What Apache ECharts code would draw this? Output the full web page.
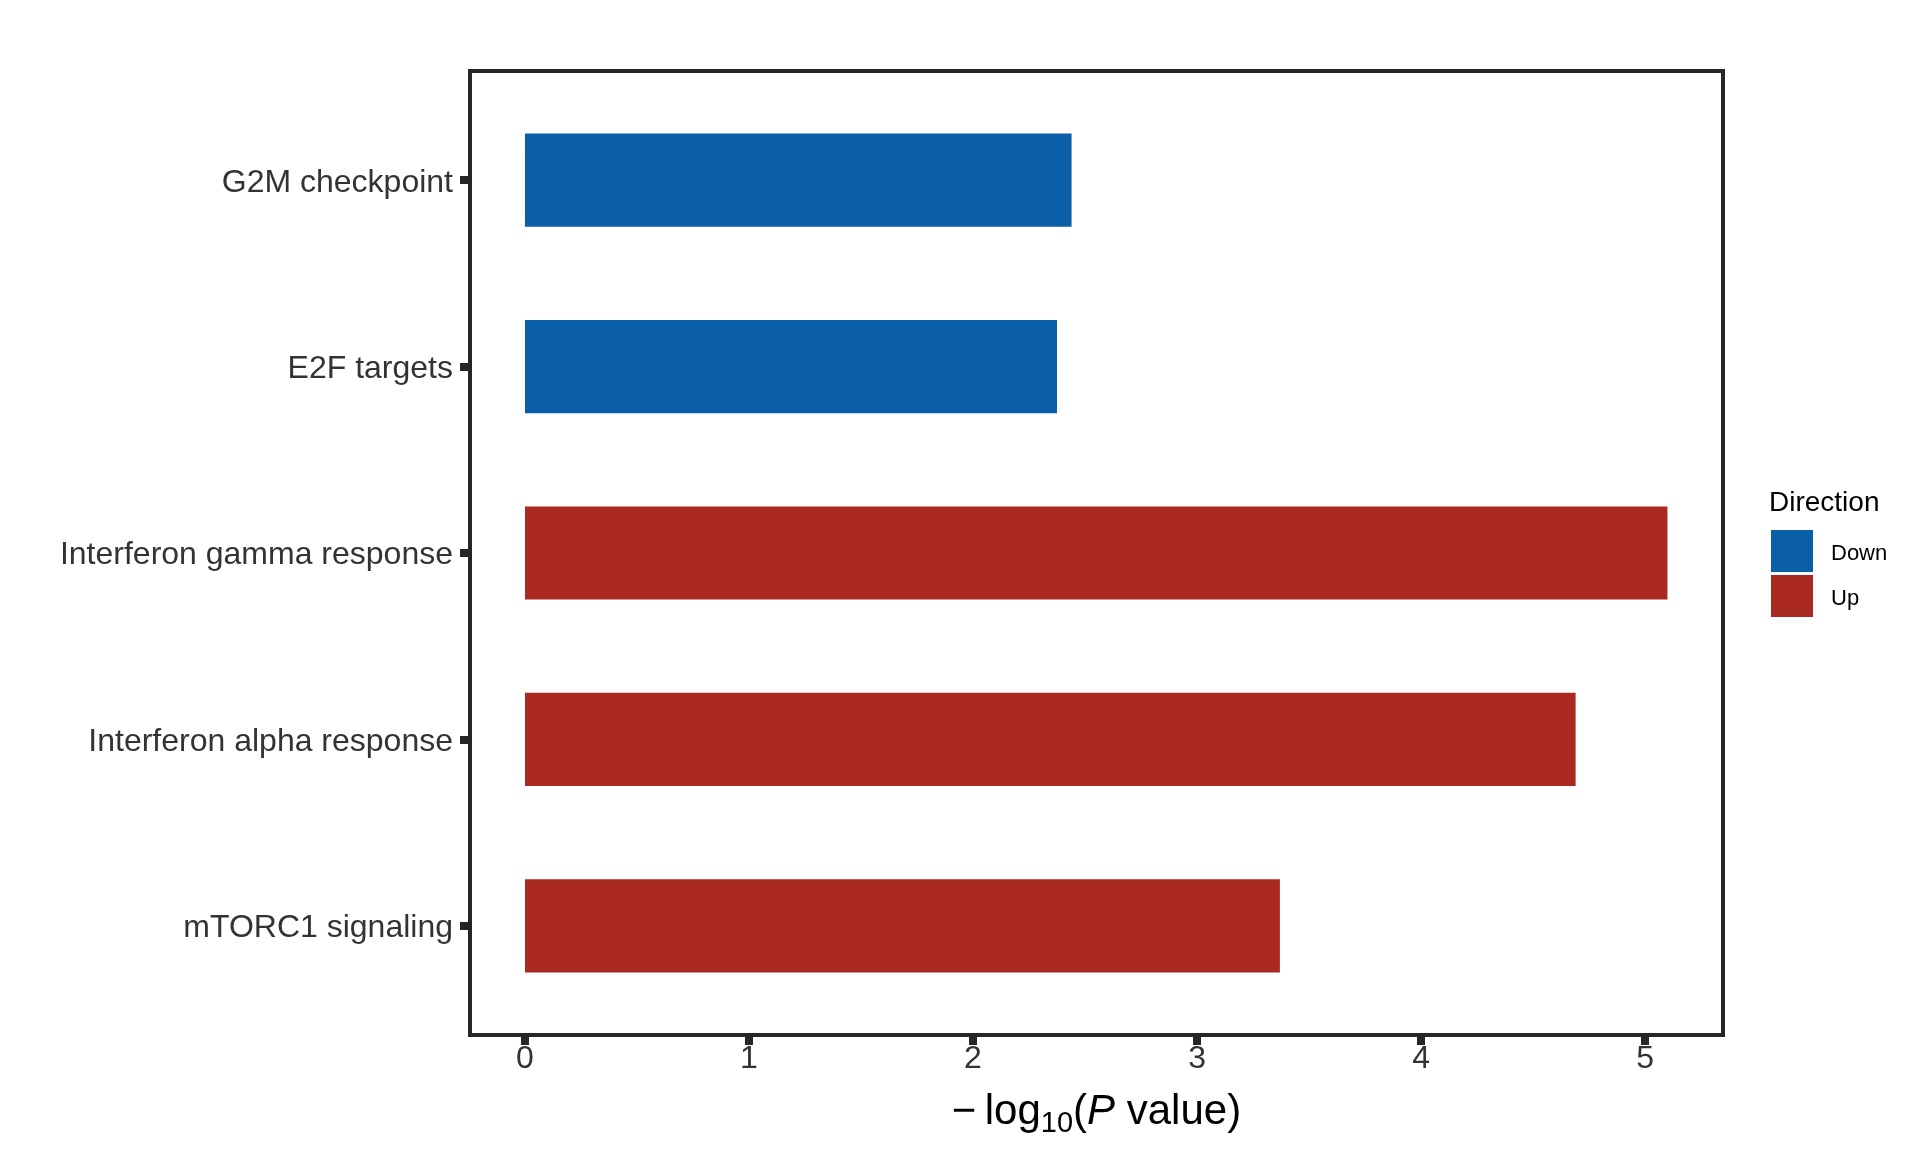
<!DOCTYPE html>
<html>
<head>
<meta charset="utf-8">
<script src="https://cdn.jsdelivr.net/npm/echarts@6/dist/echarts.min.js"></script>
<style>
	html, body { margin: 0; padding: 0; background: #fff; }
	#chart { width: 1920px; height: 1152px; }
</style>
</head>
<body>
<div id="chart"></div>
<script>
	// pathways, top to bottom
	var categories = ['G2M checkpoint', 'E2F targets', 'Interferon gamma response', 'Interferon alpha response', 'mTORC1 signaling'];
	var pValues = [2.44, 2.375, 5.10, 4.69, 3.37];
	var direction = ['Down', 'Down', 'Up', 'Up', 'Up'];
	var xTicks = [0, 1, 2, 3, 4, 5];
	var dirNames = ['Down', 'Up'];
	var dirColors = ['#0B5EA8', '#AA2920'];

	var X_MIN = -0.2455;
	var X_MAX = 5.348;
	var font = 'Liberation Sans, Arial, sans-serif';

	var series = [];
	for (var d = 0; d < dirNames.length; d++) {
		var vals = [];
		for (var i = 0; i < categories.length; i++) {
			vals.push(direction[i] === dirNames[d] ? pValues[i] : '-');
		}
		series.push({
			name: dirNames[d],
			type: 'bar',
			stack: 'all',
			xAxisIndex: 1,
			yAxisIndex: 1,
			barWidth: '50%',
			itemStyle: { color: dirColors[d] },
			data: vals
		});
	}

	var chart = echarts.init(document.getElementById('chart'));
	var option = {
		animation: false,
		textStyle: { fontFamily: font },
		title: {
			text: 'Direction',
			left: 1769,
			top: 489,
			padding: 0,
			textStyle: { fontSize: 28, fontWeight: 'normal', color: '#000', fontFamily: font }
		},
		legend: {
			data: dirNames,
			orient: 'vertical',
			left: 1771,
			top: 530,
			padding: 0,
			itemWidth: 42,
			itemHeight: 42,
			itemGap: 3,
			icon: 'rect',
			selectedMode: false,
			formatter: '{a|{name}}',
			textStyle: {
				rich: { a: { fontSize: 22, color: '#000', fontFamily: font, padding: [5, 0, 0, 13] } }
			}
		},
		grid: [
			{ left: 470, top: 71, width: 1253, height: 964, show: true, borderColor: '#262626', borderWidth: 4, backgroundColor: 'transparent' },
			{ left: 470, top: 87, width: 1253, height: 932 }
		],
		xAxis: [
			{
				gridIndex: 0,
				type: 'value',
				min: X_MIN,
				max: X_MAX,
				axisLine: { show: false, onZero: false },
				splitLine: { show: false },
				axisTick: { show: true, length: 10, customValues: xTicks, lineStyle: { color: '#262626', width: 8 } },
				axisLabel: { customValues: xTicks, fontSize: 32, color: '#333', margin: 8, fontFamily: font },
				name: '{a|\u2212\u2009log}{b|10}{a|(}{c|P}{a| value)}',
				nameLocation: 'middle',
				nameGap: 54,
				nameTextStyle: {
					rich: {
						a: { fontSize: 42, color: '#000', fontFamily: font, lineHeight: 46 },
						b: { fontSize: 29, color: '#000', fontFamily: font, lineHeight: 46, padding: [24, 0, 0, 0] },
						c: { fontSize: 42, color: '#000', fontFamily: font, fontStyle: 'italic', lineHeight: 46 }
					}
				}
			},
			{
				gridIndex: 1,
				type: 'value',
				min: X_MIN,
				max: X_MAX,
				show: false
			}
		],
		yAxis: [
			{ gridIndex: 0, type: 'value', show: false },
			{
				gridIndex: 1,
				type: 'category',
				data: categories,
				inverse: true,
				axisLine: { show: false, onZero: false },
				splitLine: { show: false },
				axisTick: { show: true, alignWithLabel: true, length: 10, lineStyle: { color: '#262626', width: 8 } },
				axisLabel: {
					margin: 17,
					formatter: function (v) { return '{a|' + v + '}'; },
					rich: { a: { fontSize: 32, color: '#333', fontFamily: font, padding: [5, 0, 0, 0] } }
				}
			}
		],
		series: series
	};
	chart.setOption(option);
</script>
</body>
</html>
